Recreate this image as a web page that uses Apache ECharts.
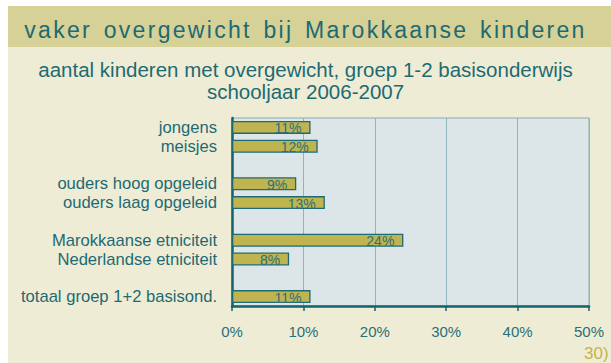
<!DOCTYPE html>
<html>
<head>
<meta charset="utf-8">
<script src="https://cdn.jsdelivr.net/npm/echarts@6/dist/echarts.min.js"></script>
<style>
  html, body { margin: 0; padding: 0; background: #ffffff; }
  #chart { width: 611px; height: 363px; }
</style>
</head>
<body>
<div id="chart"></div>
<script>
// Groups (blank entries keep the gaps between the groups of bars)
const categories = [
  'jongens', 'meisjes', ' ',
  'ouders hoog opgeleid', 'ouders laag opgeleid', '  ',
  'Marokkaanse etniciteit', 'Nederlandse etniciteit', '   ',
  'totaal groep 1+2 basisond.'
];
// Share of children with overweight, in percent
const overweightPct = [11, 12, null, 9, 13, null, 24, 8, null, 11];
const xTicks = [0, 10, 20, 30, 40, 50];

const titleText = 'vaker overgewicht bij Marokkaanse kinderen';
const subtitleText = 'aantal kinderen met overgewicht, groep 1-2 basisonderwijs\nschooljaar 2006-2007';
const sourceNote = '30)';

const teal = '#1d6a73';
const dark = '#15636d';
const font = 'Liberation Sans, Arial, sans-serif';

const chart = echarts.init(document.getElementById('chart'), null, { renderer: 'svg' });

chart.setOption({
  animation: false,
  backgroundColor: '#ffffff',
  textStyle: { fontFamily: font },
  graphic: [
    { type: 'rect', z: -10, shape: { x: 8, y: 6, width: 603, height: 357 }, style: { fill: '#efecd6' } },
    { type: 'rect', z: -9, shape: { x: 8, y: 6, width: 603, height: 41 }, style: { fill: '#d6d196' } },
    {
      type: 'text', left: 584, top: 345,
      style: { text: sourceNote, fill: '#c4b447', font: '17px ' + font }
    }
  ],
  title: [
    {
      text: titleText, left: 'center', top: 13,
      textStyle: { color: teal, fontSize: 23, fontWeight: 'normal', lineHeight: 24, fontFamily: font }
    },
    {
      text: subtitleText, left: 'center', top: 53,
      textStyle: { color: teal, fontSize: 20.5, fontWeight: 'normal', lineHeight: 22, fontFamily: font }
    }
  ],
  grid: {
    left: 232, right: 22, top: 118, bottom: 57,
    show: true, backgroundColor: '#dce6e9', borderColor: '#84aeb3', borderWidth: 1
  },
  xAxis: {
    type: 'value', min: xTicks[0], max: xTicks[xTicks.length - 1], interval: 10,
    axisLine: { show: true, lineStyle: { color: dark, width: 2.5 } },
    axisTick: { show: true, length: 5, lineStyle: { color: dark, width: 1.5 } },
    splitLine: { show: true, lineStyle: { color: '#8fb4b9', width: 1 } },
    axisLabel: { color: '#2a6f78', fontSize: 15, margin: 18, formatter: v => v + '%' }
  },
  yAxis: {
    type: 'category', data: categories, inverse: true,
    axisLine: { show: true, lineStyle: { color: dark, width: 2.5 } },
    axisTick: { show: false },
    splitLine: { show: false },
    axisLabel: { color: teal, fontSize: 16.6, margin: 15, interval: 0 }
  },
  series: [{
    type: 'bar',
    data: overweightPct,
    barWidth: 13,
    itemStyle: { color: '#c0b450', borderColor: '#1e6a72', borderWidth: 1.3 },
    label: {
      show: true, position: 'insideRight', distance: 9, offset: [0, 1],
      color: '#2c7079', fontSize: 14, fontFamily: font,
      formatter: p => p.value + '%'
    }
  }]
});

// Spaced-out lettering for the banner title
function spaceTitle() {
  document.querySelectorAll('#chart svg text').forEach(t => {
    if (t.textContent === titleText) {
      t.setAttribute('letter-spacing', '2.3');
      t.setAttribute('word-spacing', '3');
    }
  });
}
chart.on('finished', spaceTitle);
spaceTitle();
</script>
</body>
</html>
